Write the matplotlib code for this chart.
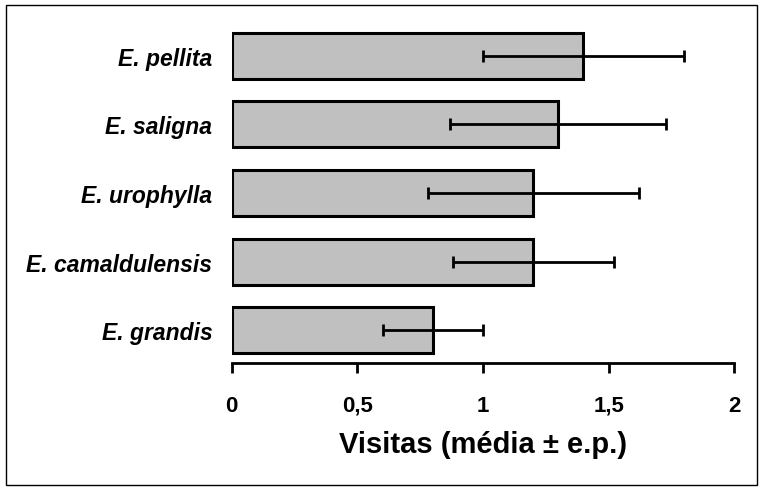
import numpy as np
import matplotlib
matplotlib.use("Agg")
import matplotlib.pyplot as plt
from matplotlib.patches import Rectangle

# data (bottom to top)
species = ["E. grandis", "E. camaldulensis", "E. urophylla", "E. saligna", "E. pellita"]
visits = [0.8, 1.2, 1.2, 1.3, 1.4]
se = [0.2, 0.32, 0.42, 0.43, 0.4]
xticks = [0, 0.5, 1, 1.5, 2]
xticklabels = ["0", "0,5", "1", "1,5", "2"]

plt.rcParams['font.family'] = ['Liberation Sans', 'DejaVu Sans']

fig = plt.figure(figsize=(7.6, 4.89), dpi=100)
ax = fig.add_axes([0.305, 0.2556, 0.661, 0.6954])

y = np.arange(len(species))
ax.barh(y, visits, height=0.67, color='#c0c0c0', edgecolor='black', linewidth=2.2)
ax.errorbar(visits, y, xerr=se, fmt='none', ecolor='black', elinewidth=2,
            capsize=4, capthick=2)

ax.set_xlim(0, 2)
ax.set_ylim(-0.48, len(species) - 0.52)
ax.set_xticks(xticks)
ax.set_xticklabels(xticklabels, fontsize=16, fontweight='bold')
ax.set_yticks(y)
ax.set_yticklabels(species, fontsize=16.5, fontweight='bold', fontstyle='italic')
ax.tick_params(axis='y', length=0, pad=14)
ax.tick_params(axis='x', direction='out', length=7, width=2, pad=16)

for s in ['top', 'right', 'left']:
    ax.spines[s].set_visible(False)
ax.spines['bottom'].set_linewidth(2)

ax.set_xlabel("Visitas (média ± e.p.)", fontsize=21, fontweight='bold', labelpad=10)

# frame around the whole figure
fig.patches.append(Rectangle((6 / 760, 3 / 489), 751 / 760, 480 / 489,
                             transform=fig.transFigure, fill=False,
                             edgecolor='black', linewidth=1))

fig.savefig("out.png", dpi=100)
